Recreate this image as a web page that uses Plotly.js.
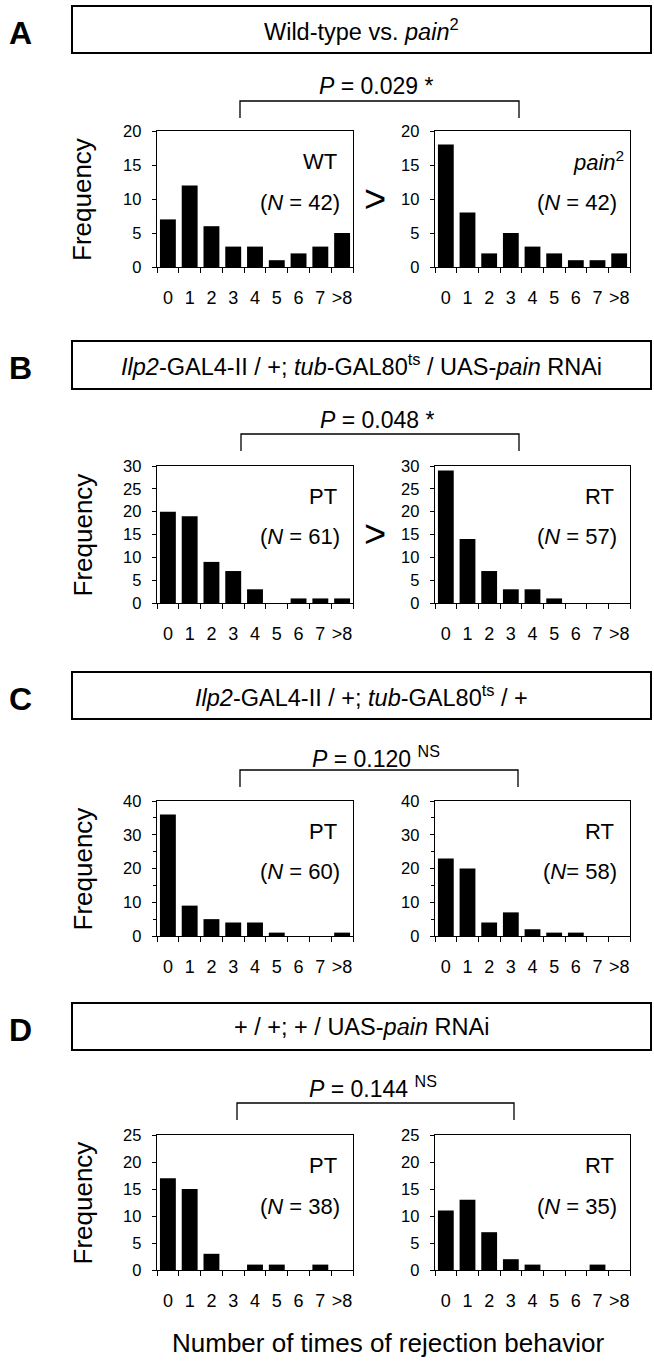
<!DOCTYPE html>
<html>
<head>
<meta charset="utf-8">
<script src="https://cdn.plot.ly/plotly-3.0.1.min.js"></script>
<style>html,body{margin:0;padding:0;background:#fff;}#chart{width:654px;height:1363px;}</style>
</head>
<body>
<div id="chart"></div>
<script>
// ---- data ----
const categories = ['0','1','2','3','4','5','6','7','>8'];
const wildTypeA = [7,12,6,3,3,1,2,3,5];
const pain2A    = [18,8,2,5,3,2,1,1,2];
const ptB = [20,19,9,7,3,0,1,1,1];
const rtB = [29,14,7,3,3,1,0,0,0];
const ptC = [36,9,5,4,4,1,0,0,1];
const rtC = [23,20,4,7,2,1,1,0,0];
const ptD = [17,15,3,0,1,1,0,1,0];
const rtD = [11,13,7,2,1,0,0,1,0];

const panelLetters = ['A','B','C','D'];
const boxTitles = [
  'Wild-type vs. <i>pain</i><sup>2</sup>',
  '<i>Ilp2</i>-GAL4-II / +; <i>tub</i>-GAL80<sup>ts</sup> / UAS-<i>pain</i> RNAi',
  '<i>Ilp2</i>-GAL4-II / +; <i>tub</i>-GAL80<sup>ts</sup> / +',
  '+ / +; + / UAS-<i>pain</i> RNAi'
];
const pTexts = [
  '<i>P</i> = 0.029 *',
  '<i>P</i> = 0.048 *',
  '<i>P</i> = 0.120 <sup>NS</sup>',
  '<i>P</i> = 0.144 <sup>NS</sup>'
];
const leftLabels  = ['WT','PT','PT','PT'];
const rightLabels = ['<i>pain</i><sup>2</sup>','RT','RT','RT'];
const leftN  = ['(<i>N</i> = 42)','(<i>N</i> = 61)','(<i>N</i> = 60)','(<i>N</i> = 38)'];
const rightN = ['(<i>N</i> = 42)','(<i>N</i> = 57)','(<i>N</i>= 58)','(<i>N</i> = 35)'];
const comparisonSigns = ['>','>','',''];
const yAxisTitle = 'Frequency';
const xAxisTitle = 'Number of times of rejection behavior';

const seriesLeft  = [wildTypeA, ptB, ptC, ptD];
const seriesRight = [pain2A, rtB, rtC, rtD];

// ---- layout geometry (pixels) ----
const W = 654, H = 1363;
const px = v => v / W;
const py = v => 1 - v / H;
const FONT = 'Liberation Sans, Arial, Helvetica, sans-serif';

const panels = [
  {plotTop:131, plotBot:267, yMax:20, dtick:5, minor:null, boxTop:6,    boxBot:53,   brY:101,  brX:[240,519], pY:86},
  {plotTop:466, plotBot:603, yMax:30, dtick:5, minor:null, boxTop:341,  boxBot:389,  brY:434,  brX:[241,519], pY:420},
  {plotTop:801, plotBot:936, yMax:40, dtick:10, minor:5,   boxTop:672,  boxBot:719,  brY:770,  brX:[240,518], pY:757},
  {plotTop:1135,plotBot:1270,yMax:25, dtick:5, minor:null, boxTop:1003, boxBot:1050, brY:1103, brX:[237,514], pY:1087}
];
const leftX = [157, 353], rightX = [435, 630];
const boxX = [72, 651];

const traces = [];
const layout = {
  width: W, height: H,
  margin: {l:0, r:0, t:0, b:0},
  paper_bgcolor: '#fff', plot_bgcolor: '#fff',
  showlegend: false,
  bargap: 0.27,
  font: {family: FONT, color: '#000'},
  shapes: [], annotations: []
};

panels.forEach((p, i) => {
  [[seriesLeft[i], leftX], [seriesRight[i], rightX]].forEach(([vals, xr], j) => {
    const n = i * 2 + j + 1;
    const xa = n === 1 ? 'x' : 'x' + n;
    const ya = n === 1 ? 'y' : 'y' + n;
    traces.push({
      type: 'bar', x: categories, y: vals, xaxis: xa, yaxis: ya,
      marker: {color: '#000', line: {width: 0}}, hoverinfo: 'skip'
    });
    const xk = n === 1 ? 'xaxis' : 'xaxis' + n;
    const yk = n === 1 ? 'yaxis' : 'yaxis' + n;
    layout[xk] = {
      domain: [px(xr[0]), px(xr[1])], anchor: ya,
      type: 'category', categoryorder: 'array', categoryarray: categories,
      dtick: 1, tickangle: 0,
      showline: true, linecolor: '#000', linewidth: 1.3, mirror: true,
      ticks: 'outside', tickson: 'boundaries', ticklen: 5, tickcolor: '#000', tickwidth: 1,
      tickfont: {size: 18, family: FONT, color: '#000'},
      ticklabelstandoff: 14,
      showgrid: false, zeroline: false, fixedrange: true
    };
    const yax = {
      domain: [py(p.plotBot), py(p.plotTop)], anchor: xa,
      range: [0, p.yMax], dtick: p.dtick, tick0: 0,
      showline: true, linecolor: '#000', linewidth: 1.3, mirror: true,
      ticks: 'outside', ticklen: 4, tickcolor: '#000', tickwidth: 1,
      tickfont: {size: 16.5, family: FONT, color: '#000'},
      ticklabelstandoff: 7,
      showgrid: false, zeroline: false, fixedrange: true
    };
    if (p.minor) yax.minor = {dtick: p.minor, ticks: 'outside', ticklen: 3, tickcolor: '#000', showgrid: false};
    layout[yk] = yax;
  });

  // header box
  layout.shapes.push({type:'rect', xref:'paper', yref:'paper',
    x0: px(boxX[0]), x1: px(boxX[1]), y0: py(p.boxBot), y1: py(p.boxTop),
    line: {color:'#000', width:2}, fillcolor:'rgba(0,0,0,0)'});
  // bracket
  const bx0 = px(p.brX[0]), bx1 = px(p.brX[1]);
  layout.shapes.push({type:'path', xref:'paper', yref:'paper',
    path: `M ${bx0} ${py(p.brY + 17)} L ${bx0} ${py(p.brY)} L ${bx1} ${py(p.brY)} L ${bx1} ${py(p.brY + 17)}`,
    line: {color:'#000', width:1.3}});

  const mid = (p.boxTop + p.boxBot) / 2;
  // panel letter
  layout.annotations.push({xref:'paper', yref:'paper', x: px(20), y: py(mid + 3),
    text: '<b>' + panelLetters[i] + '</b>', showarrow:false, xanchor:'center', yanchor:'middle',
    font: {size: 32, family: FONT, color:'#000'}});
  // box title
  layout.annotations.push({xref:'paper', yref:'paper', x: px((boxX[0] + boxX[1]) / 2), y: py(mid),
    text: boxTitles[i], showarrow:false, xanchor:'center', yanchor:'middle',
    font: {size: 23.5, family: FONT, color:'#000'}});
  // P value
  layout.annotations.push({xref:'paper', yref:'paper', x: px((p.brX[0] + p.brX[1]) / 2 - 3), y: py(p.pY),
    text: pTexts[i], showarrow:false, xanchor:'center', yanchor:'middle',
    font: {size: 23, family: FONT, color:'#000'}});
  // Frequency label
  layout.annotations.push({xref:'paper', yref:'paper', x: px(82), y: py((p.plotTop + p.plotBot) / 2),
    text: yAxisTitle, textangle: -90, showarrow:false, xanchor:'center', yanchor:'middle',
    font: {size: 26, family: FONT, color:'#000'}});
  // group labels
  [[leftLabels[i], leftN[i], leftX], [rightLabels[i], rightN[i], rightX]].forEach(([lab, nn, xr]) => {
    const pad = lab.indexOf('<sup>') >= 0 ? 4 : 14;
    layout.annotations.push({xref:'paper', yref:'paper', x: px(xr[1] - pad), y: py(p.plotTop + 30),
      text: lab, showarrow:false, xanchor:'right', yanchor:'middle',
      font: {size: 22, family: FONT, color:'#000'}});
    layout.annotations.push({xref:'paper', yref:'paper', x: px(xr[1] - 11), y: py(p.plotTop + 71),
      text: nn, showarrow:false, xanchor:'right', yanchor:'middle',
      font: {size: 22, family: FONT, color:'#000'}});
  });
  if (comparisonSigns[i]) {
    layout.annotations.push({xref:'paper', yref:'paper', x: px(375), y: py(p.plotTop + 68),
      text: comparisonSigns[i], showarrow:false, xanchor:'center', yanchor:'middle',
      font: {size: 38, family: FONT, color:'#000'}});
  }
});

layout.annotations.push({xref:'paper', yref:'paper', x: px(388), y: py(1343),
  text: xAxisTitle, showarrow:false, xanchor:'center', yanchor:'middle',
  font: {size: 26, family: FONT, color:'#000'}});

Plotly.newPlot('chart', traces, layout, {staticPlot: true, displayModeBar: false});
</script>
</body>
</html>
